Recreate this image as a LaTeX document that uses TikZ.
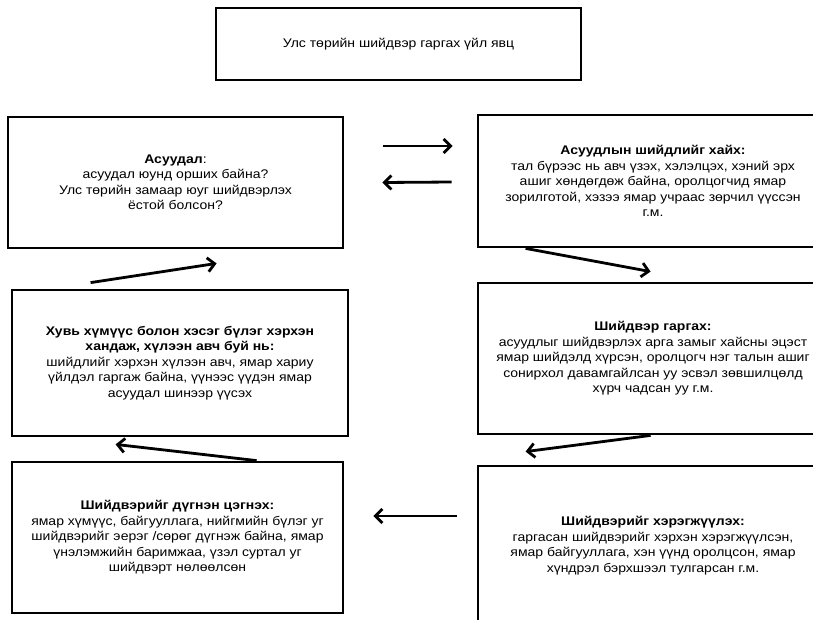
\documentclass[tikz,border=0pt]{standalone}
\usepackage{fontspec}
\setmainfont{Liberation Sans}[FakeStretch=1.12]
\usetikzlibrary{arrows.meta,positioning,calc}
\definecolor{cEdge}{HTML}{000000}
\definecolor{cText}{HTML}{000000}

\begin{document}
\begin{tikzpicture}[
  x=1pt, y=1pt,
  font=\fontsize{12.5}{15.5}\selectfont,
  stage/.style={draw=cEdge, line width=2.8pt, align=center, inner sep=4pt, text=cText},
  flow/.style={-{Straight Barb[length=7pt,width=14pt]}, line width=2.8pt, draw=cEdge},
]
\useasboundingbox (0,0) rectangle (813,-619);
\clip (0,0) rectangle (813,-619);

% ---- title ----
\node[stage, minimum width=365pt, minimum height=72pt] (title) at (398.5,-44)
  {Улс төрийн шийдвэр гаргах үйл явц};

% ---- left column ----
\node[stage, minimum width=335pt, minimum height=131pt] (prob) at (175.5,-182.5)
  {\textbf{Асуудал}:\\ асуудал юунд орших байна?\\ Улс төрийн замаар юуг шийдвэрлэх\\ ёстой болсон?};
\node[stage, minimum width=336pt, minimum height=146pt] (react) at (180,-363)
  {\textbf{Хувь хүмүүс болон хэсэг бүлэг хэрхэн}\\ \textbf{хандаж, хүлээн авч буй нь:}\\
   шийдлийг хэрхэн хүлээн авч, ямар хариу\\ үйлдэл гаргаж байна, үүнээс үүдэн ямар\\ асуудал шинээр үүсэх};
\node[stage, minimum width=331pt, minimum height=151pt] (judge) at (177.5,-537.5)
  {\textbf{Шийдвэрийг дүгнэн цэгнэх:}\\ ямар хүмүүс, байгууллага, нийгмийн бүлэг уг\\
   шийдвэрийг эерэг /сөрөг дүгнэж байна, ямар\\ үнэлэмжийн баримжаа, үзэл суртал уг\\ шийдвэрт нөлөөлсөн};

% ---- right column (runs off the page) ----
\node[stage, minimum width=350pt, minimum height=132pt] (search) at (653,-181)
  {\textbf{Асуудлын шийдлийг хайх:}\\ тал бүрээс нь авч үзэх, хэлэлцэх, хэний эрх\\
   ашиг хөндөгдөж байна, оролцогчид ямар\\ зорилготой, хэзээ ямар учраас зөрчил үүссэн\\ г.м.};
\node[stage, minimum width=350pt, minimum height=151pt] (decide) at (653,-358.5)
  {\textbf{Шийдвэр гаргах:}\\ асуудлыг шийдвэрлэх арга замыг хайсны эцэст\\
   ямар шийдэлд хүрсэн, оролцогч нэг талын ашиг\\ сонирхол давамгайлсан уу эсвэл зөвшилцөлд\\ хүрч чадсан уу г.м.};
\node[stage, minimum width=350pt, minimum height=159pt] (apply) at (653,-545.5)
  {\textbf{Шийдвэрийг хэрэгжүүлэх:}\\ гаргасан шийдвэрийг хэрхэн хэрэгжүүлсэн,\\
   ямар байгууллага, хэн үүнд оролцсон, ямар\\ хүндрэл бэрхшээл тулгарсан г.м.};

% ---- cycle arrows ----
\draw[flow] ([xshift=39pt,yshift=36.5pt]prob.east) -- ([xshift=-24pt,yshift=35pt]search.west);
\draw[flow] ([xshift=-25pt,yshift=-1pt]search.west) -- ([xshift=38pt]prob.east);
\draw[flow] ([xshift=49pt]search.south west) -- ([xshift=174pt,yshift=10pt]decide.north west);
\draw[flow] ([xshift=174pt]decide.south west) -- ([xshift=49pt,yshift=13pt]apply.north west);
\draw[flow] ([xshift=-20pt,yshift=29.5pt]apply.west) -- ([xshift=29pt,yshift=21.5pt]judge.east);
\draw[flow] ([xshift=246pt]judge.north west) -- ([xshift=105pt,yshift=-7pt]react.south west);
\draw[flow] ([xshift=80pt,yshift=6pt]react.north west) -- ([xshift=210pt,yshift=-14pt]prob.south west);
\end{tikzpicture}
\end{document}
